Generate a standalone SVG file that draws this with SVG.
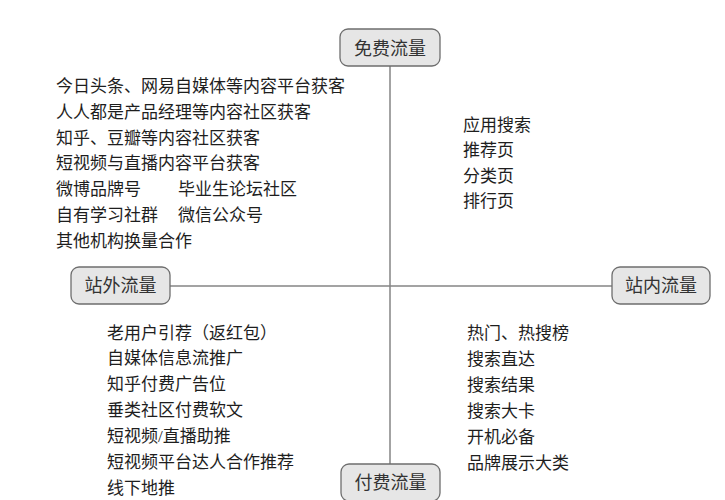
<svg xmlns="http://www.w3.org/2000/svg" width="725" height="500" viewBox="0 0 725 500">
<style>
.box{fill:#e6e6e6;stroke:#6e6e6e;stroke-width:1.3}
.bt{font-family:"Noto Sans CJK SC","Noto Sans",sans-serif;font-size:18px;fill:#333;text-anchor:middle}
.t{font-family:"Liberation Serif","Noto Sans CJK SC",serif;font-size:17px;fill:#1e1e1e}
.ln{stroke:#858585;stroke-width:1.5;fill:none}
</style>
<rect width="725" height="500" fill="#fff"/>
<g id="connectors">
<line class="ln" x1="390" y1="66" x2="390" y2="464"/>
<line class="ln" x1="170" y1="286" x2="612" y2="286"/>
</g>
<g id="free">
<rect class="box" x="340" y="29" width="100" height="37" rx="8"/>
<text class="bt" x="390" y="54.5">免费流量</text>
</g>
<g id="outside">
<rect class="box" x="71" y="267" width="99" height="37" rx="8"/>
<text class="bt" x="120.5" y="292">站外流量</text>
</g>
<g id="inside">
<rect class="box" x="612" y="267" width="98" height="37" rx="8"/>
<text class="bt" x="661" y="292">站内流量</text>
</g>
<g id="paid">
<rect class="box" x="341" y="464" width="99" height="37" rx="8"/>
<text class="bt" x="390.5" y="489">付费流量</text>
</g>
<g id="free-outside">
<text class="t" x="56" y="92">今日头条、网易自媒体等内容平台获客</text>
<text class="t" x="56" y="118">人人都是产品经理等内容社区获客</text>
<text class="t" x="56" y="143.5">知乎、豆瓣等内容社区获客</text>
<text class="t" x="56" y="169">短视频与直播内容平台获客</text>
<text class="t" x="56" y="195">微博品牌号<tspan x="178">毕业生论坛社区</tspan></text>
<text class="t" x="56" y="220.5">自有学习社群<tspan x="178">微信公众号</tspan></text>
<text class="t" x="56" y="246.5">其他机构换量合作</text>
</g>
<g id="free-inside">
<text class="t" x="463" y="130.5">应用搜索</text>
<text class="t" x="463" y="156">推荐页</text>
<text class="t" x="463" y="181.5">分类页</text>
<text class="t" x="463" y="207">排行页</text>
</g>
<g id="paid-outside">
<text class="t" x="107" y="339">老用户引荐（返红包）</text>
<text class="t" x="107" y="364">自媒体信息流推广</text>
<text class="t" x="107" y="389.5">知乎付费广告位</text>
<text class="t" x="107" y="416">垂类社区付费软文</text>
<text class="t" x="107" y="442">短视频/直播助推</text>
<text class="t" x="107" y="467.5">短视频平台达人合作推荐</text>
<text class="t" x="107" y="494">线下地推</text>
</g>
<g id="paid-inside">
<text class="t" x="467" y="339">热门、热搜榜</text>
<text class="t" x="467" y="365">搜索直达</text>
<text class="t" x="467" y="391">搜索结果</text>
<text class="t" x="467" y="417">搜索大卡</text>
<text class="t" x="467" y="443">开机必备</text>
<text class="t" x="467" y="468.5">品牌展示大类</text>
</g>
</svg>
